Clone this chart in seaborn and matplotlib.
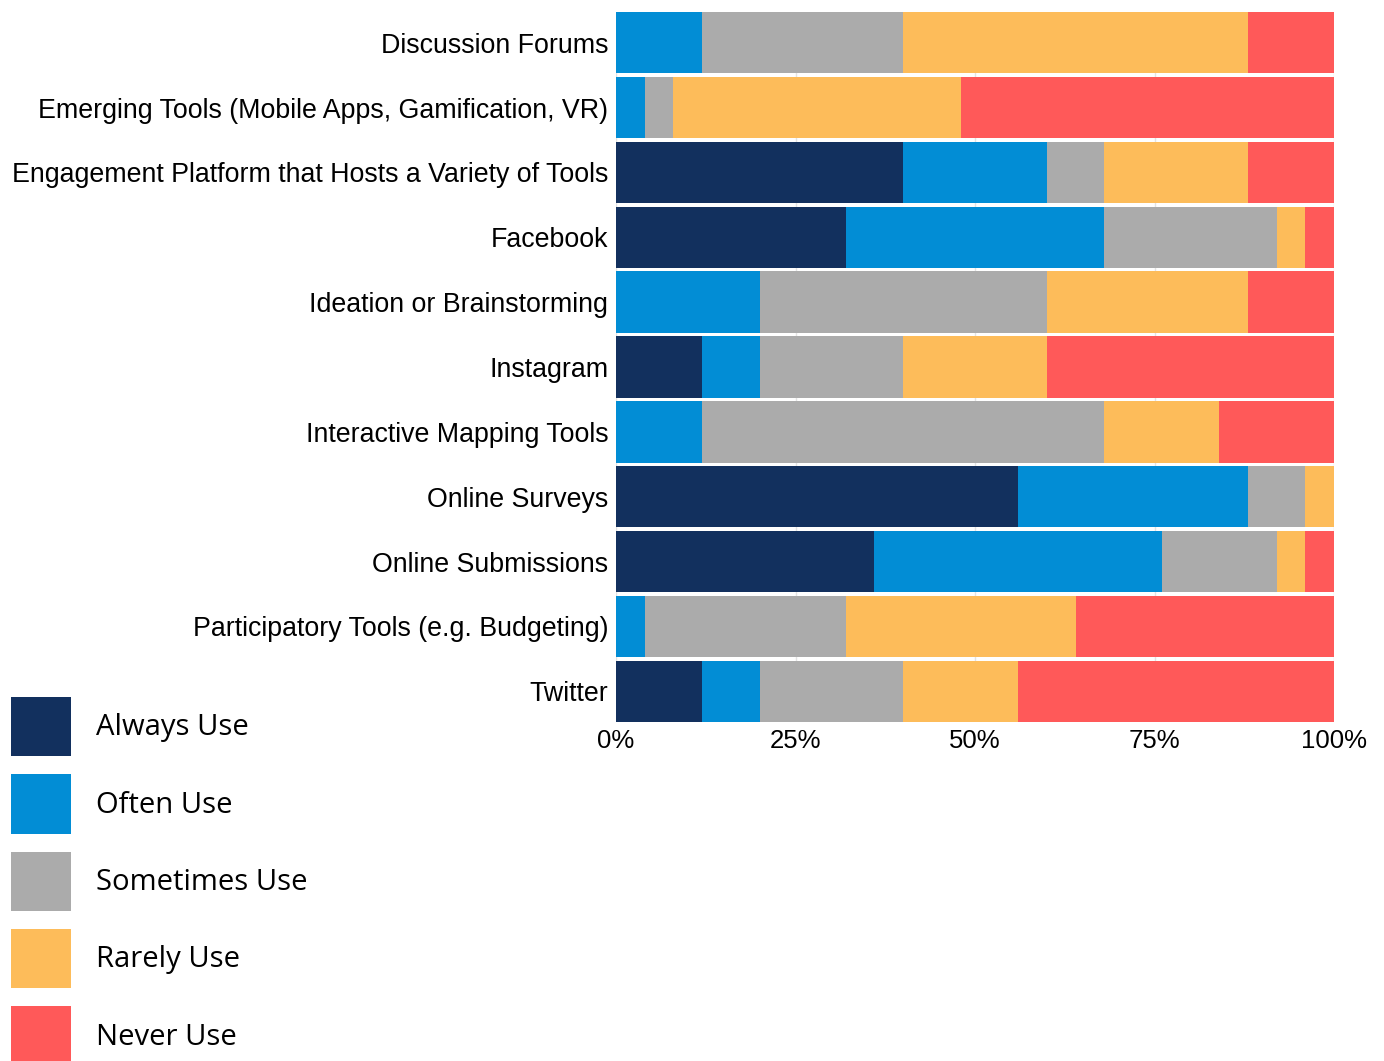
import matplotlib
matplotlib.use("Agg")
import matplotlib.pyplot as plt
import seaborn as sns
import pandas as pd
import numpy as np
from matplotlib.patches import Patch

categories = [
    "Discussion Forums",
    "Emerging Tools (Mobile Apps, Gamification, VR)",
    "Engagement Platform that Hosts a Variety of Tools",
    "Facebook",
    "Ideation or Brainstorming",
    "Instagram",
    "Interactive Mapping Tools",
    "Online Surveys",
    "Online Submissions",
    "Participatory Tools (e.g. Budgeting)",
    "Twitter",
]
series_names = ["Always Use", "Often Use", "Sometimes Use", "Rarely Use", "Never Use"]
always    = [0, 0, 40, 32, 0, 12, 0, 56, 36, 0, 12]
often     = [12, 4, 20, 36, 20, 8, 12, 32, 40, 4, 8]
sometimes = [28, 4, 8, 24, 40, 20, 56, 8, 16, 28, 20]
rarely    = [48, 40, 20, 4, 28, 20, 16, 4, 4, 32, 16]
never     = [12, 52, 12, 4, 12, 40, 16, 0, 4, 36, 44]
tick_vals = [0, 25, 50, 75, 100]
tick_labels = ["0%", "25%", "50%", "75%", "100%"]
colors = ["#12305e", "#028dd5", "#ababab", "#fdbc5a", "#ff5959"]

sns.set_theme(style="white")
plt.rcParams["font.family"] = ["Liberation Sans", "DejaVu Sans"]

fig = plt.figure(figsize=(13.84, 10.61), dpi=100)
W, H = 1384, 1061
ax = fig.add_axes([616 / W, (H - 722) / H, (1334 - 616) / W, (722 - 12) / H])

data = [always, often, sometimes, rarely, never]
cum = np.cumsum(np.array(data, dtype=float), axis=0)
bw = 0.945
for i in range(len(series_names) - 1, -1, -1):
    df = pd.DataFrame({"cat": categories, "val": cum[i]})
    sns.barplot(data=df, x="val", y="cat", orient="h", color=colors[i],
                width=bw, saturation=1, edgecolor="none", linewidth=0, ax=ax, zorder=2)

ax.set_xlim(0, 100)
ax.set_ylim(len(categories) - 1 + bw / 2, -bw / 2)
ax.set_xticks(tick_vals)
ax.set_xticklabels(tick_labels)
ax.set_xlabel("")
ax.set_ylabel("")
for s in ax.spines.values():
    s.set_visible(False)
ax.grid(axis="x", color="#e3e3e3", linewidth=1, zorder=0)
ax.grid(axis="y", visible=False)
ax.set_axisbelow(True)
ax.tick_params(axis="x", length=0, pad=5, labelsize=18.5, colors="black")
ax.tick_params(axis="y", length=0, pad=5.5, labelsize=19.3, colors="black")

handles = [Patch(facecolor=c, edgecolor="none") for c in colors]
leg = fig.legend(handles, series_names, loc="upper left",
                 bbox_to_anchor=(11 / W, (H - 697) / H),
                 frameon=False, borderpad=0, borderaxespad=0,
                 handlelength=2.05, handleheight=2.73, handletextpad=0.85,
                 labelspacing=0.62, prop={"family": "Open Sans", "size": 21.1})
for t in leg.get_texts():
    t.set_color("black")

fig.savefig("out.png", dpi=100)
